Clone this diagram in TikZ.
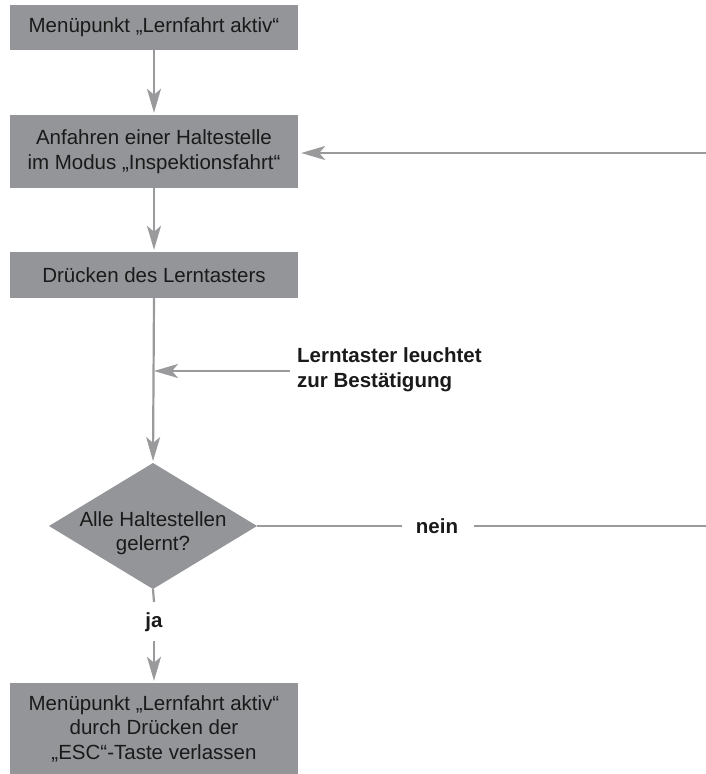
\documentclass[tikz,border=0pt]{standalone}
\usepackage{fontspec}
\setmainfont{Liberation Sans}
\usetikzlibrary{shapes.geometric,arrows.meta}
\definecolor{boxgrey}{HTML}{939598}
\definecolor{linegrey}{HTML}{9A9A9C}
\definecolor{ink}{HTML}{1A1A1A}
\begin{document}
\begin{tikzpicture}[x=1pt,y=-1pt,
  flowbox/.style={draw=none,fill=boxgrey,minimum width=288pt,inner sep=0pt,
    text=ink,align=center,font=\fontsize{20.5}{24.5}\selectfont},
  decision/.style={diamond,draw=none,fill=boxgrey,minimum width=208pt,
    minimum height=126pt,inner sep=0pt,outer sep=0pt},
  decisiontext/.style={text=ink,align=center,font=\fontsize{20.5}{24.5}\selectfont},
  label/.style={text=ink,align=left,font=\bfseries\fontsize{20.5}{25}\selectfont,inner sep=0pt},
  flow/.style={draw=linegrey,line width=2.2pt},
  arrow/.style={flow,shorten >=2pt,-{Stealth[length=24pt,width=14pt,inset=6pt]}}]
  \useasboundingbox (0,0) rectangle (706,774);

  % process steps
  \node[flowbox,minimum height=45pt] (start) at (154,27.5) {Menüpunkt „Lernfahrt aktiv“};
  \node[flowbox,minimum height=73pt] (approach) at (154,151.5)
    {Anfahren einer Haltestelle\\im Modus „Inspektionsfahrt“};
  \node[flowbox,minimum height=46pt] (press) at (154,275) {Drücken des Lerntasters};

  % decision
  \node[decision] (check) at (153,526) {};
  \node[decisiontext] (checktext) at ([yshift=-7pt]check.center) {Alle Haltestellen\\gelernt?};

  \node[flowbox,minimum height=91pt] (leave) at (154,728.5)
    {Menüpunkt „Lernfahrt aktiv“\\durch Drücken der\\„ESC“-Taste verlassen};

  % labels (base anchor sits on the last line)
  \node[label,anchor=base west] (confirm) at (297,387) {Lerntaster leuchtet\\zur Bestätigung};
  \node[label,anchor=base] (yes) at (154,627) {ja};
  \node[label,anchor=base] (no) at (437,533) {nein};

  % helper points
  \coordinate (confirmstart) at (290,371);
  \coordinate (confirmend) at (154,371);
  \coordinate (loopright) at (706,526);
  \coordinate (looptop) at (706,153);

  % connectors
  \draw[arrow] (start.south) -- (approach.north);
  \draw[arrow] (approach.south) -- (press.north);
  \draw[arrow] (press.south) -- (check.north);
  \draw[arrow,shorten >=0pt] (confirmstart) -- (confirmend);
  \draw[flow] (check.south) -- ([yshift=10pt]yes.north);
  \draw[arrow] ([yshift=-10pt]yes.south) -- (leave.north);
  \draw[flow] (check.east) -- ([xshift=-14pt]no.west |- check.east);
  \draw[flow] ([xshift=16pt]no.east |- check.east) -- (loopright);
  \draw[arrow,shorten >=3pt] (looptop) -- (looptop -| approach.east);
\end{tikzpicture}
\end{document}
